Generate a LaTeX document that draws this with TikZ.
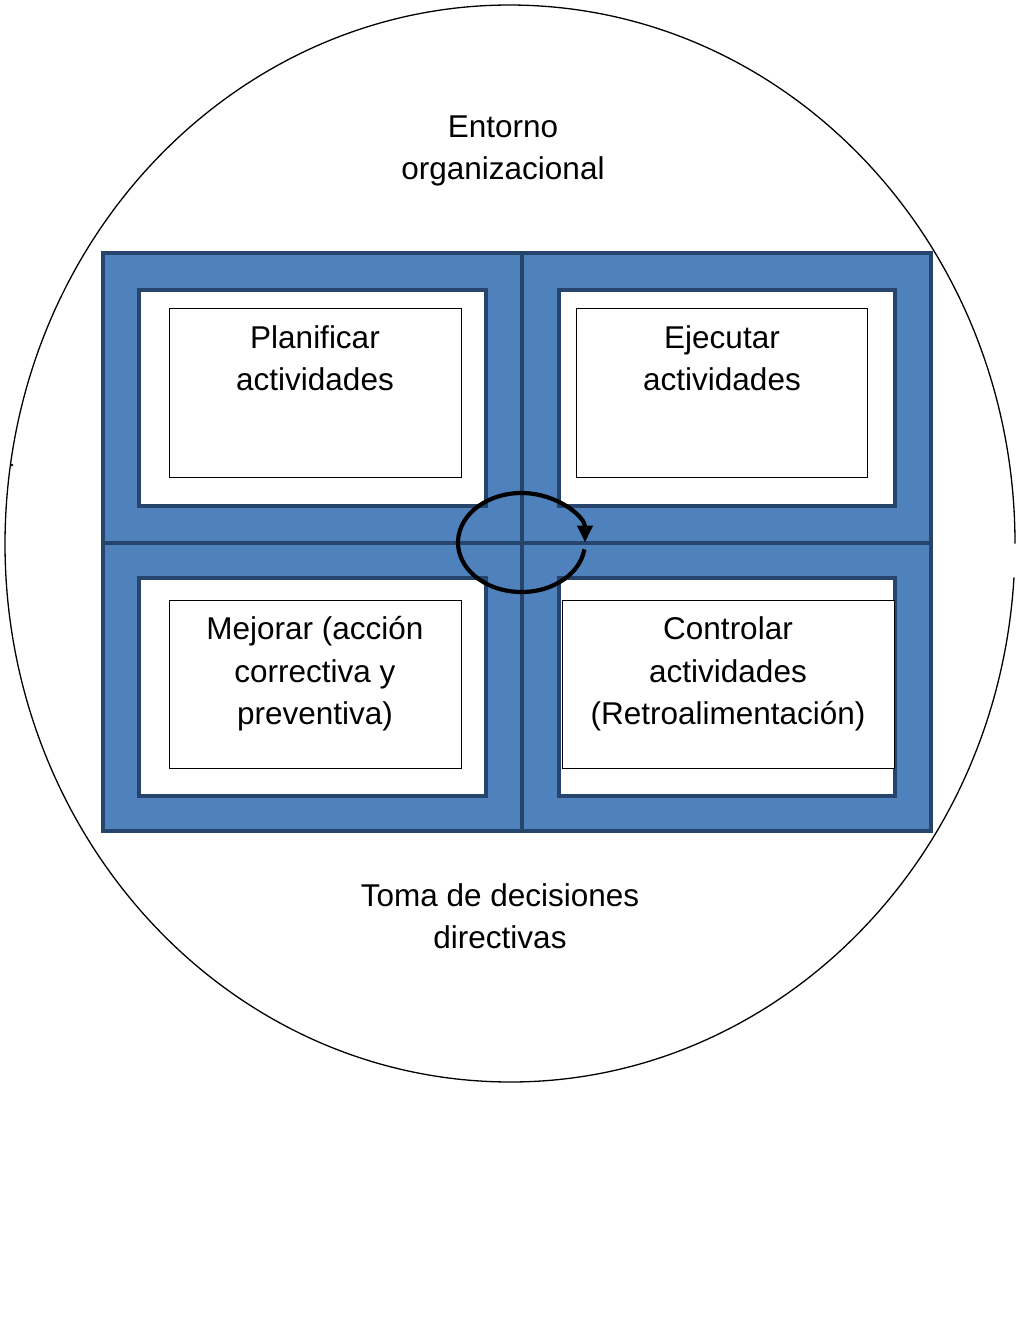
\documentclass[tikz,border=0pt]{standalone}
\usepackage{fontspec}
\setmainfont{Liberation Sans}
\usetikzlibrary{arrows.meta}
\definecolor{qblue}{HTML}{4F81BD}
\definecolor{qdark}{HTML}{27456C}
\begin{document}
\begin{tikzpicture}[x=1pt,y=-1pt,
  quad/.style={draw=qdark,fill=qblue,line width=4.8pt,inner sep=0pt},
  whitebox/.style={draw=qdark,fill=white,line width=4.8pt,inner sep=0pt},
  thinbox/.style={draw=black,fill=white,line width=0.9pt,inner sep=0pt},
  lbl/.style={align=center,inner sep=0pt,font=\fontsize{31.5}{42.5}\selectfont}]
\useasboundingbox (0,0) rectangle (1036,1326);
% outer environment circle with small gap on the right
\draw[line width=1.3pt] (510,543.5) ++(3.6:505 and 538.5)
  arc[start angle=3.6,end angle=360,x radius=505,y radius=538.5];
\fill (12,465) circle (1.3pt);
% quadrants
\node[quad,minimum width=419pt,minimum height=290pt] (q1) at (312.5,398) {};
\node[quad,minimum width=409pt,minimum height=290pt] (q2) at (726.5,398) {};
\node[quad,minimum width=419pt,minimum height=288pt] (q3) at (312.5,687) {};
\node[quad,minimum width=409pt,minimum height=288pt] (q4) at (726.5,687) {};
% white boxes
\node[whitebox,minimum width=347pt,minimum height=216pt] (w1) at (312.5,398) {};
\node[whitebox,minimum width=336pt,minimum height=216pt] (w2) at (727,398) {};
\node[whitebox,minimum width=347pt,minimum height=218pt] (w3) at (312.5,687) {};
\node[whitebox,minimum width=336pt,minimum height=218pt] (w4) at (727,687) {};
% thin boxes
\node[thinbox,minimum width=292pt,minimum height=169pt] (t1) at (315,392.5) {};
\node[thinbox,minimum width=291pt,minimum height=169pt] (t2) at (721.5,392.5) {};
\node[thinbox,minimum width=292pt,minimum height=168pt] (t3) at (315,684) {};
\node[thinbox,minimum width=332pt,minimum height=168pt] (t4) at (728,684) {};
% texts
\node[lbl] (entorno) at (503,151) {Entorno\\organizacional};
\node[lbl] (toma) at (500,916) {Toma de decisiones\\directivas};
\node[lbl] (plan) at (315,358) {Planificar\\actividades};
\node[lbl] (ejec) at (722,358) {Ejecutar\\actividades};
\node[lbl] (mejo) at (315,674) {Mejorar (acción\\correctiva y\\preventiva)};
\node[lbl] (ctrl) at (728,674) {Controlar\\actividades\\(Retroalimentación)};
% cycle arrow
\draw[line width=4.2pt,-{Triangle[length=17pt,width=15pt]}] (521.5,542.5) ++(8:63.5 and 49.5)
  arc[start angle=8,end angle=360,x radius=63.5,y radius=49.5];
\end{tikzpicture}
\end{document}
